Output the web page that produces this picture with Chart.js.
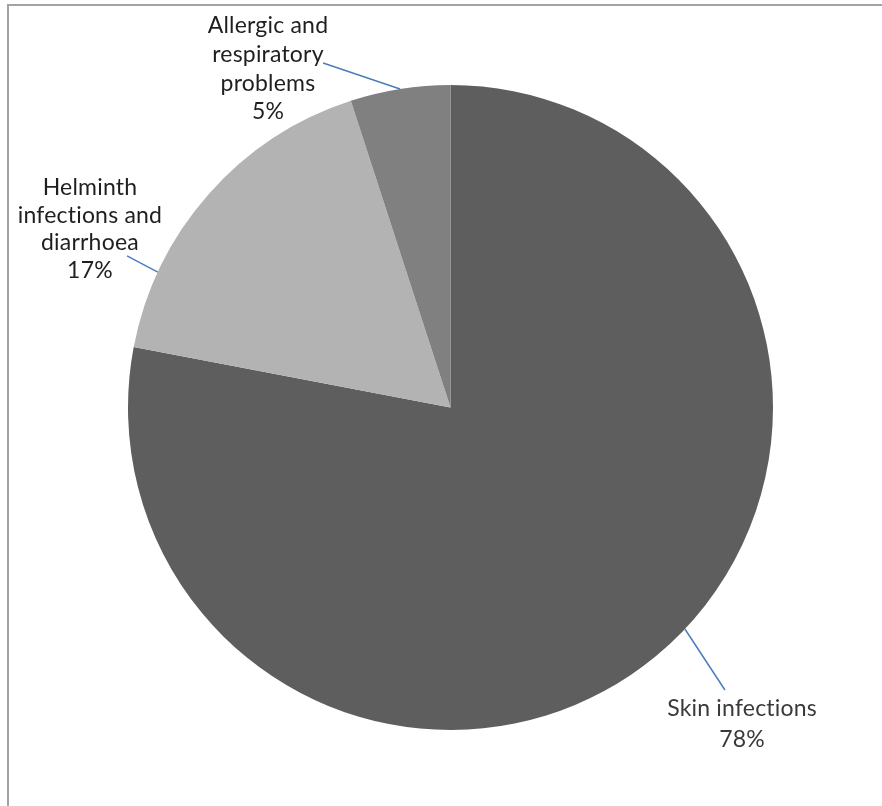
<!DOCTYPE html>
<html>
<head>
<meta charset="utf-8">
<script src="https://cdn.jsdelivr.net/npm/chart.js@4/dist/chart.umd.min.js"></script>
<style>
  html, body { margin: 0; padding: 0; background: #ffffff; }
  #wrap { width: 882px; height: 806px; position: relative; }
  canvas { font-variant-ligatures: none; }
</style>
</head>
<body>
<div id="wrap"><canvas id="c" width="882" height="806"></canvas></div>
<script>
// ---- data ----
const categories = ["Skin infections", "Helminth infections and diarrhoea", "Allergic and respiratory problems"];
const percentValues = [78, 17, 5];
const labelLines = [
  ["Skin infections", "78%"],
  ["Helminth", "infections and", "diarrhoea", "17%"],
  ["Allergic and", "respiratory", "problems", "5%"]
];

// ---- styles ----
const sliceColors = ["#5e5e5e", "#b3b3b3", "#808080"];
const leaderColor = "#4a7ebb";
const labelFont = "23px Lato";

// label placement: leader start as fraction within slice; leader end and text centre
// expressed in units of the pie radius from the pie centre
const labelPlacement = [
  { frac: 0.475, end: [0.851, 0.876], text: [0.904, 0.981], lh: 31, color: "#3a3a3a" },
  { frac: 0.229, end: [-1.003, -0.470], text: [-1.118, -0.553], lh: 27.5, color: "#1f1f1f" },
  { frac: 0.5, end: [-0.395, -1.068], text: [-0.566, -1.050], lh: 28.7, color: "#1f1f1f" }
];

const framePlugin = {
  id: "frame",
  beforeDraw(chart) {
    const ctx = chart.ctx;
    ctx.save();
    ctx.strokeStyle = "#a3a3a3";
    ctx.lineWidth = 2;
    ctx.beginPath();
    ctx.moveTo(8, 806);
    ctx.lineTo(8, 5);
    ctx.lineTo(882, 5);
    ctx.stroke();
    ctx.restore();
  }
};

const labelPlugin = {
  id: "pieLabels",
  afterDatasetsDraw(chart) {
    const ctx = chart.ctx;
    const meta = chart.getDatasetMeta(0);
    ctx.save();
    meta.data.forEach((arc, i) => {
      const p = labelPlacement[i];
      const cx = arc.x, cy = arc.y, r = arc.outerRadius;
      const a = arc.startAngle + p.frac * (arc.endAngle - arc.startAngle);
      const sx = cx + r * Math.cos(a), sy = cy + r * Math.sin(a);
      const ex = cx + p.end[0] * r, ey = cy + p.end[1] * r;
      ctx.strokeStyle = leaderColor;
      ctx.lineWidth = 1.5;
      ctx.beginPath();
      ctx.moveTo(sx, sy);
      ctx.lineTo(ex, ey);
      ctx.stroke();

      const lines = labelLines[i];
      const tx = cx + p.text[0] * r, ty = cy + p.text[1] * r;
      ctx.fillStyle = p.color;
      ctx.font = labelFont;
      if ("letterSpacing" in ctx) ctx.letterSpacing = "0.2px"; // also disables ligatures
      ctx.textAlign = "center";
      ctx.textBaseline = "middle";
      const top = ty - (lines.length - 1) * p.lh / 2;
      lines.forEach((t, k) => ctx.fillText(t, tx, top + k * p.lh));
    });
    ctx.restore();
  }
};

new Chart(document.getElementById("c"), {
  type: "pie",
  data: {
    labels: categories,
    datasets: [{
      data: percentValues,
      backgroundColor: sliceColors,
      borderWidth: 0
    }]
  },
  options: {
    responsive: false,
    animation: false,
    layout: { padding: { left: 128, top: 85, right: 109, bottom: 76 } },
    plugins: {
      legend: { display: false },
      tooltip: { enabled: false },
      title: { display: false }
    }
  },
  plugins: [framePlugin, labelPlugin]
});
</script>
</body>
</html>
